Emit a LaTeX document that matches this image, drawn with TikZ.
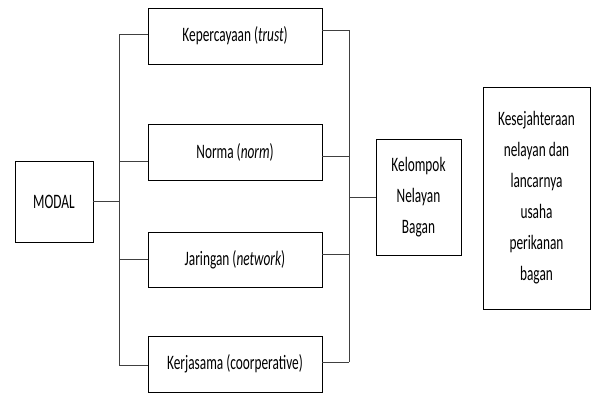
\documentclass[tikz,border=0pt]{standalone}
\usepackage{fontspec}
\setmainfont{Carlito}[FakeStretch=0.65]
\usetikzlibrary{positioning}

\begin{document}
\begin{tikzpicture}[x=1pt,y=1pt,
  box/.style={draw=black,line width=0.9pt,inner sep=2pt,minimum width=174pt,minimum height=56pt,
    font=\fontsize{20.5}{31}\selectfont,align=center},
  link/.style={draw=black!75,line width=0.6pt}]
\useasboundingbox (0,0) rectangle (592,-392);
% boxes
\node [box,minimum width=78pt,minimum height=81pt] (modal) at (54,-201.5) {MODAL};
\node [box] (trust) at (235,-36) {Kepercayaan (\textit{trust})};
\node [box] (norm) at (235,-152) {Norma (\textit{norm})};
\node [box,minimum height=55pt] (network) at (235,-259.5) {Jaringan (\textit{network})};
\node [box] (coop) at (235,-364) {Kerjasama (coorperative)};
\node [box,minimum width=85pt,minimum height=116pt] (kelompok) at (418.5,-197) {Kelompok\\Nelayan\\Bagan};
\node [box,minimum width=107pt,minimum height=222pt] (sejahtera) at (536.5,-198) {Kesejahteraan\\nelayan dan\\lancarnya\\usaha\\perikanan\\bagan};
% bus lines
\coordinate (lbus) at (119,0);
\coordinate (rbus) at (349,0);
\draw [link] (modal.east) -- (modal.east -| lbus);
\draw [link] ([yshift=2pt]lbus |- trust.west) -- ([yshift=-1pt]lbus |- coop.west);
\draw [link] ([yshift=2pt]lbus |- trust.west) -- ([yshift=2pt]trust.west);
\draw [link] ([yshift=-9pt]lbus |- norm.west) -- ([yshift=-9pt]norm.west);
\draw [link] (lbus |- network.west) -- (network.west);
\draw [link] ([yshift=-1pt]lbus |- coop.west) -- ([yshift=-1pt]coop.west);
\draw [link] ([yshift=6pt]trust.east) -- ([yshift=6pt]rbus |- trust.east);
\draw [link] ([yshift=6pt]rbus |- trust.east) -- ([yshift=2pt]rbus |- coop.east);
\draw [link] ([yshift=-4pt]norm.east) -- ([yshift=-4pt]rbus |- norm.east);
\draw [link] ([yshift=5pt]network.east) -- ([yshift=5pt]rbus |- network.east);
\draw [link] ([yshift=2pt]coop.east) -- ([yshift=2pt]rbus |- coop.east);
\draw [link] (rbus |- kelompok.west) -- (kelompok.west);
\end{tikzpicture}
\end{document}
